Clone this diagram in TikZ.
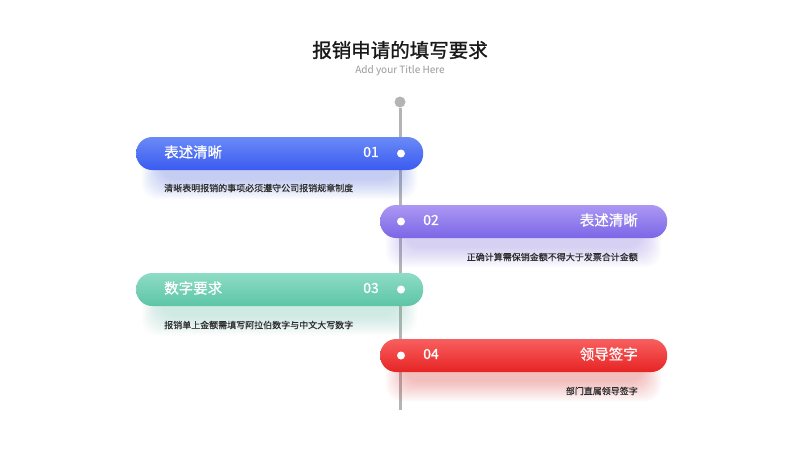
\documentclass[tikz,border=0pt]{standalone}
\usepackage{fontspec}
\setmainfont{Noto Sans CJK SC}
\newfontfamily\titlefont[FakeBold=1.2]{Noto Sans CJK SC}
\newfontfamily\medfont[FakeBold=0.7]{Noto Sans CJK SC}
\newfontfamily\descfont[FakeBold=0.3]{Noto Sans CJK SC}
\definecolor{axisgray}{HTML}{B4B4B4}
\definecolor{blueT}{HTML}{6A8AF7}
\definecolor{blueB}{HTML}{3A5BF0}
\definecolor{purT}{HTML}{AC98F3}
\definecolor{purB}{HTML}{7B66E6}
\definecolor{grnT}{HTML}{8EDCC5}
\definecolor{grnB}{HTML}{5CC5A5}
\definecolor{redT}{HTML}{F95F5F}
\definecolor{redB}{HTML}{E62424}
\definecolor{desc}{HTML}{2A2A2A}
\definecolor{subgray}{HTML}{9A9A9A}
\newcommand\myglow[5]{%
  \foreach \k in {0,...,12}{%
    \fill[#5, opacity=0.022, rounded corners=16pt]
      ({#1+24-\k*1.5},{#2+14-\k*0.5}) rectangle ({#3-24+\k*1.5},{#4+10+\k*1.6});
  }%
}
\tikzset{
  bar/.style={rectangle, rounded corners=16pt, minimum width=287pt, minimum height=33pt, inner sep=0pt, draw=none},
  bartext/.style={text=white, font=\medfont\fontsize{14.5}{16}\selectfont, inner sep=0pt},
  numtext/.style={text=white, font=\medfont\fontsize{14}{16}\selectfont, inner sep=0pt},
  dot/.style={circle, fill=white, minimum size=8pt, inner sep=0pt},
  desctext/.style={text=desc, font=\descfont\fontsize{9}{11}\selectfont, inner sep=0pt},
}
\begin{document}
\begin{tikzpicture}[x=1pt,y=-1pt]
\useasboundingbox (0,0) rectangle (800,450);
\fill[white] (0,0) rectangle (800,450);
% title
\node[font=\titlefont\fontsize{19.5}{22}\selectfont, text=black!90, inner sep=0pt] (title) at (400,50) {报销申请的填写要求};
\node[font=\fontsize{10}{12}\selectfont, text=subgray, inner sep=0pt] (sub) at (400,71) {Add your Title Here};
% axis
\node[circle, fill=axisgray, minimum size=11pt, inner sep=0pt] (top) at (400,102) {};
\coordinate (bot) at (400,410);
\draw[axisgray, line width=3pt] (top) -- (bot);
% glows
\myglow{136}{137}{423}{170}{blueB}
\myglow{380}{205}{667}{238}{purB}
\myglow{136}{273}{423}{306}{grnB}
\myglow{380}{339}{667}{372}{redB}
% bar 1
\node[bar, top color=blueT, bottom color=blueB, anchor=west] (b1) at (136,153.5) {};
\node[bartext, anchor=west] (t1) at (164,152) {表述清晰};
\node[numtext] (n1) at (371,152) {01};
\node[dot] (d1) at (401,153.5) {};
\node[desctext, anchor=west] (e1) at (164,188) {清晰表明报销的事项必须遵守公司报销规章制度};
% bar 2
\node[bar, top color=purT, bottom color=purB, anchor=west] (b2) at (380,221.5) {};
\node[dot] (d2) at (401,221.5) {};
\node[numtext] (n2) at (431,220) {02};
\node[bartext, anchor=east] (t2) at (638,220) {表述清晰};
\node[desctext, anchor=east] (e2) at (638,257) {正确计算需保销金额不得大于发票合计金额};
% bar 3
\node[bar, top color=grnT, bottom color=grnB, anchor=west] (b3) at (136,289.5) {};
\node[bartext, anchor=west] (t3) at (164,288) {数字要求};
\node[numtext] (n3) at (371,288) {03};
\node[dot] (d3) at (401,289.5) {};
\node[desctext, anchor=west] (e3) at (164,325) {报销单上金额需填写阿拉伯数字与中文大写数字};
% bar 4
\node[bar, top color=redT, bottom color=redB, anchor=west] (b4) at (380,355.5) {};
\node[dot] (d4) at (401,355.5) {};
\node[numtext] (n4) at (431,354) {04};
\node[bartext, anchor=east] (t4) at (638,354) {领导签字};
\node[desctext, anchor=east] (e4) at (638,391) {部门直属领导签字};
\end{tikzpicture}
\end{document}
